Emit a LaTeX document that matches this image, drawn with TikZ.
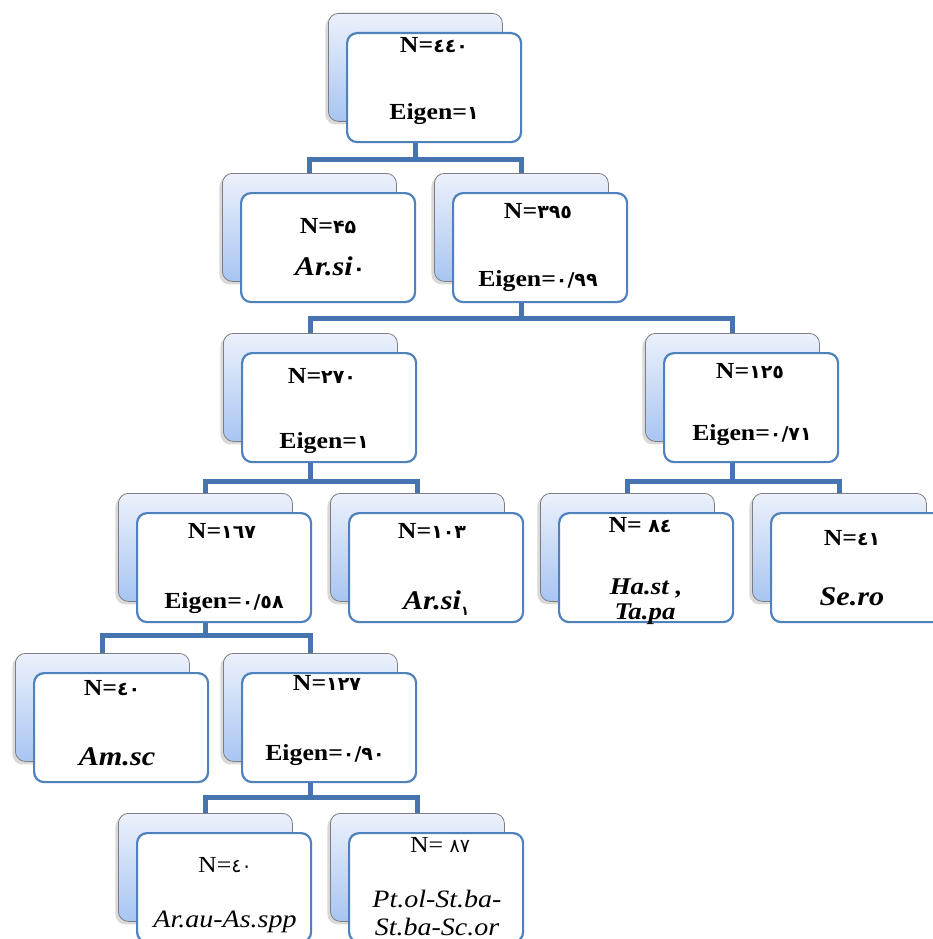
\documentclass[tikz,border=0pt]{standalone}
\usepackage{fontspec}
\setmainfont{Liberation Serif}[FakeStretch=1.12]
\newfontfamily\ar{DejaVu Sans}
\usetikzlibrary{shadows}
\definecolor{connblue}{RGB}{70,116,176}
\definecolor{frontblue}{RGB}{79,129,189}
\definecolor{backgray}{RGB}{125,125,130}
\definecolor{backtop}{RGB}{236,241,251}
\definecolor{backbot}{RGB}{168,197,242}
\tikzset{
  backcard/.style={draw=backgray, line width=0.8pt, rounded corners=10pt,
    minimum width=174pt, minimum height=108pt, inner sep=0pt, anchor=north west,
    top color=backtop, bottom color=backbot,
    drop shadow={shadow xshift=-3pt, shadow yshift=-3pt, opacity=0.3}},
  frontcard/.style={draw=frontblue, line width=2.2pt, rounded corners=10pt,
    fill=white, minimum width=174pt, minimum height=109pt, inner sep=0pt, anchor=north west},
  nlbl/.style={font=\bfseries\fontsize{23}{25}\selectfont, inner sep=0pt, anchor=base},
  nreg/.style={font=\fontsize{23}{25}\selectfont, inner sep=0pt, anchor=base},
  sp/.style={font=\bfseries\itshape\fontsize{27}{29}\selectfont, inner sep=0pt, anchor=base},
  spsmall/.style={font=\bfseries\itshape\fontsize{24}{26}\selectfont, inner sep=0pt, anchor=base},
  spreg/.style={font=\itshape\fontsize{25}{27}\selectfont, inner sep=0pt, anchor=base},
  conn/.style={draw=connblue, line width=5pt}
}
\newcommand\mycard[3]{%
  \node[backcard] (#1b) at (#2,#3) {};
  \node[frontcard] (#1) at ({#2+18},{#3+19}) {};}
\newcommand\dg[1]{{\ar\fontsize{19}{21}\selectfont #1}}
\newcommand\subdg[3]{\raisebox{#2}{\ar\upshape\bfseries\fontsize{#3}{#3}\selectfont #1}}
\begin{document}
\begin{tikzpicture}[x=1pt,y=-1pt]
\useasboundingbox (0,0) rectangle (933,939);
\clip (0,0) rectangle (933,939);
% cards
\mycard{R}{328}{13}
\mycard{A}{222}{173}
\mycard{B}{434}{173}
\mycard{C}{223}{333}
\mycard{D}{645}{333}
\mycard{E}{118}{493}
\mycard{F}{330}{493}
\mycard{G}{540}{493}
\mycard{H}{752}{493}
\mycard{I}{15}{653}
\mycard{J}{223}{653}
\mycard{K}{118}{813}
\mycard{L}{330}{813}
% labels
\node[nlbl] (R1) at (434,53) {N=\dg{٤٤٠}};
\node[nlbl] (R2) at (434,120) {Eigen=\dg{١}};
\node[nlbl] (A1) at (328,233) {N=\dg{۴۵}};
\node[sp] (A2) at (330,275) {Ar.si\subdg{٠}{0ex}{20}};
\node[nlbl] (B1) at (538,218) {N=\dg{٣٩٥}};
\node[nlbl] (B2) at (538,286) {Eigen=\dg{٠/٩٩}};
\node[nlbl] (C1) at (322,383) {N=\dg{٢٧٠}};
\node[nlbl] (C2) at (324,448) {Eigen=\dg{١}};
\node[nlbl] (D1) at (750,378) {N=\dg{١٢٥}};
\node[nlbl] (D2) at (752,440) {Eigen=\dg{٠/٧١}};
\node[nlbl] (E1) at (222,538) {N=\dg{١٦٧}};
\node[nlbl] (E2) at (224,608) {Eigen=\dg{٠/٥٨}};
\node[nlbl] (F1) at (432,538) {N=\dg{١٠٣}};
\node[sp] (F2) at (436,609) {Ar.si\subdg{١}{-0.5ex}{13}};
\node[nlbl] (G1) at (640,532) {N= \dg{٨٤}};
\node[spsmall] (G2) at (646,594) {Ha.st ,};
\node[spsmall] (G3) at (645,619) {Ta.pa};
\node[nlbl] (H1) at (852,545) {N=\dg{٤١}};
\node[sp] (H2) at (852,605) {Se.ro};
\node[nlbl] (I1) at (112,695) {N=\dg{٤٠}};
\node[sp] (I2) at (117,765) {Am.sc};
\node[nlbl] (J1) at (327,690) {N=\dg{١٢٧}};
\node[nlbl] (J2) at (325,760) {Eigen=\dg{٠/٩٠}};
\node[nreg] (K1) at (225,872) {N=\dg{٤٠}};
\node[spreg] (K2) at (225,927) {Ar.au-As.spp};
\node[nreg] (L1) at (440,852) {N= \dg{٨٧}};
\node[spreg] (L2) at (437,907) {Pt.ol-St.ba-};
\node[spreg] (L3) at (437,935) {St.ba-Sc.or};
% connectors
\coordinate (y1) at (0,159);
\coordinate (y2) at (0,318);
\coordinate (y3) at (0,481);
\coordinate (y4) at (0,635);
\coordinate (y5) at (0,797);
\draw[conn] (Rb.center |- R.south) -- (Rb.center |- y1);
\draw[conn] (Ab.north) |- (Rb.center |- y1) -| (Bb.north);
\draw[conn] (Bb.center |- B.south) -- (Bb.center |- y2);
\draw[conn] (Cb.north) |- (Bb.center |- y2) -| (Db.north);
\draw[conn] (Cb.center |- C.south) -- (Cb.center |- y3);
\draw[conn] (Eb.north) |- (Cb.center |- y3) -| (Fb.north);
\draw[conn] (Db.center |- D.south) -- (Db.center |- y3);
\draw[conn] (Gb.north) |- (Db.center |- y3) -| (Hb.north);
\draw[conn] (Eb.center |- E.south) -- (Eb.center |- y4);
\draw[conn] (Ib.north) |- (Eb.center |- y4) -| (Jb.north);
\draw[conn] (Jb.center |- J.south) -- (Jb.center |- y5);
\draw[conn] (Kb.north) |- (Jb.center |- y5) -| (Lb.north);
\end{tikzpicture}
\end{document}
